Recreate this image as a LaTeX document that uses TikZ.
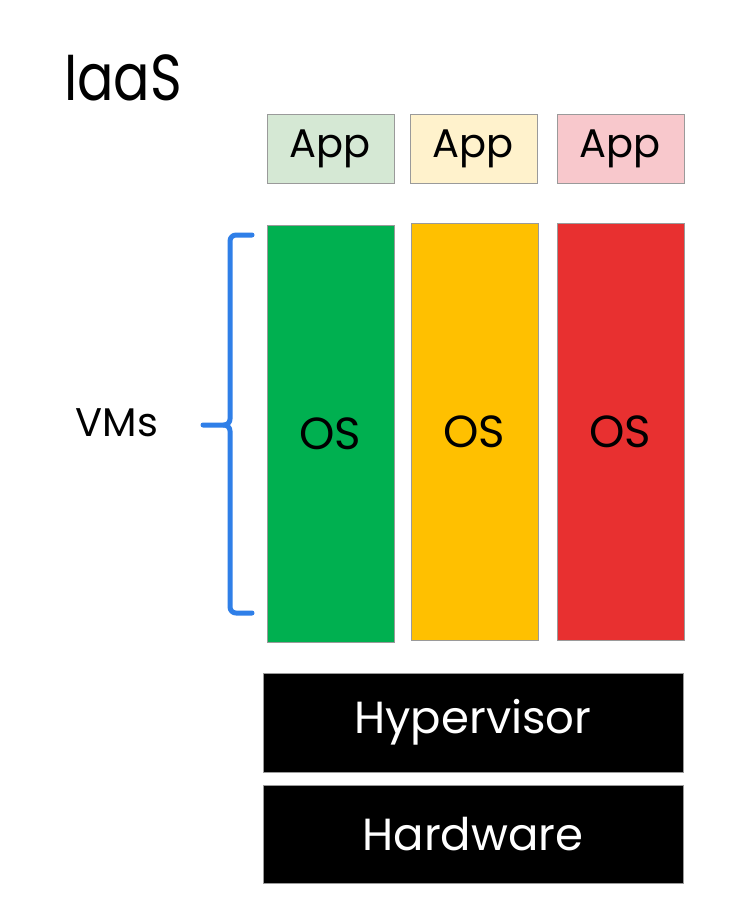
\documentclass[tikz,border=0pt]{standalone}
\usepackage{fontspec}
\usepackage{graphicx}
\setmainfont{Poppins}
\definecolor{appgreen}{HTML}{D5E8D4}
\definecolor{appyellow}{HTML}{FFF2CC}
\definecolor{apppink}{HTML}{F8C8CC}
\definecolor{osgreen}{HTML}{00B050}
\definecolor{osyellow}{HTML}{FFC000}
\definecolor{osred}{HTML}{E83030}
\definecolor{bracecol}{HTML}{2F7FE8}
\definecolor{edgegrey}{HTML}{9A9A9A}
\begin{document}
\begin{tikzpicture}[x=1pt,y=-1pt,
  box/.style={draw=edgegrey, line width=1pt, anchor=north west, inner sep=0pt, outer sep=0pt},
  appbox/.style={box, minimum width=127pt, minimum height=69pt, font=\fontsize{40}{48}\selectfont},
  osbox/.style={box, minimum width=127pt, minimum height=417pt, font=\fontsize{45}{54}\selectfont},
  blackbox/.style={box, fill=black, text=white, minimum width=420pt, minimum height=99pt, font=\fontsize{45}{54}\selectfont}]
\useasboundingbox[fill=white] (0,0) rectangle (730,924);
\node[anchor=base west, inner sep=0pt, font=\fontsize{58}{66}\selectfont] (title) at (64,100) {\scalebox{0.93}[1.12]{IaaS}};
\node[appbox, fill=appgreen] (app1) at (267,114) {App};
\node[appbox, fill=appyellow] (app2) at (410,114) {App};
\node[appbox, fill=apppink] (app3) at (557,114) {App};
\node[osbox, fill=osgreen] (os1) at (267,225) {OS};
\node[osbox, fill=osyellow] (os2) at (411,223) {OS};
\node[osbox, fill=osred] (os3) at (557,223) {OS};
\node[blackbox] (hyp) at (263,673) {Hypervisor};
\node[blackbox, minimum height=98pt] (hw) at (263,785) {Hardware};
\node[anchor=center, inner sep=0pt, font=\fontsize{40}{48}\selectfont] (vms) at (117,423) {VMs};
\coordinate (bt) at (252,235);
\coordinate (bb) at (252,613);
\coordinate (bm) at (203,425);
\draw[bracecol, line width=5pt, line cap=round, line join=round]
  (bt) -- (236,235) to[out=180,in=90] (230,241) -- (230,419) to[out=-90,in=0] (224,425) -- (bm);
\draw[bracecol, line width=5pt, line cap=round, line join=round]
  (bb) -- (236,613) to[out=180,in=-90] (230,607) -- (230,431) to[out=90,in=0] (224,425);
\end{tikzpicture}
\end{document}
